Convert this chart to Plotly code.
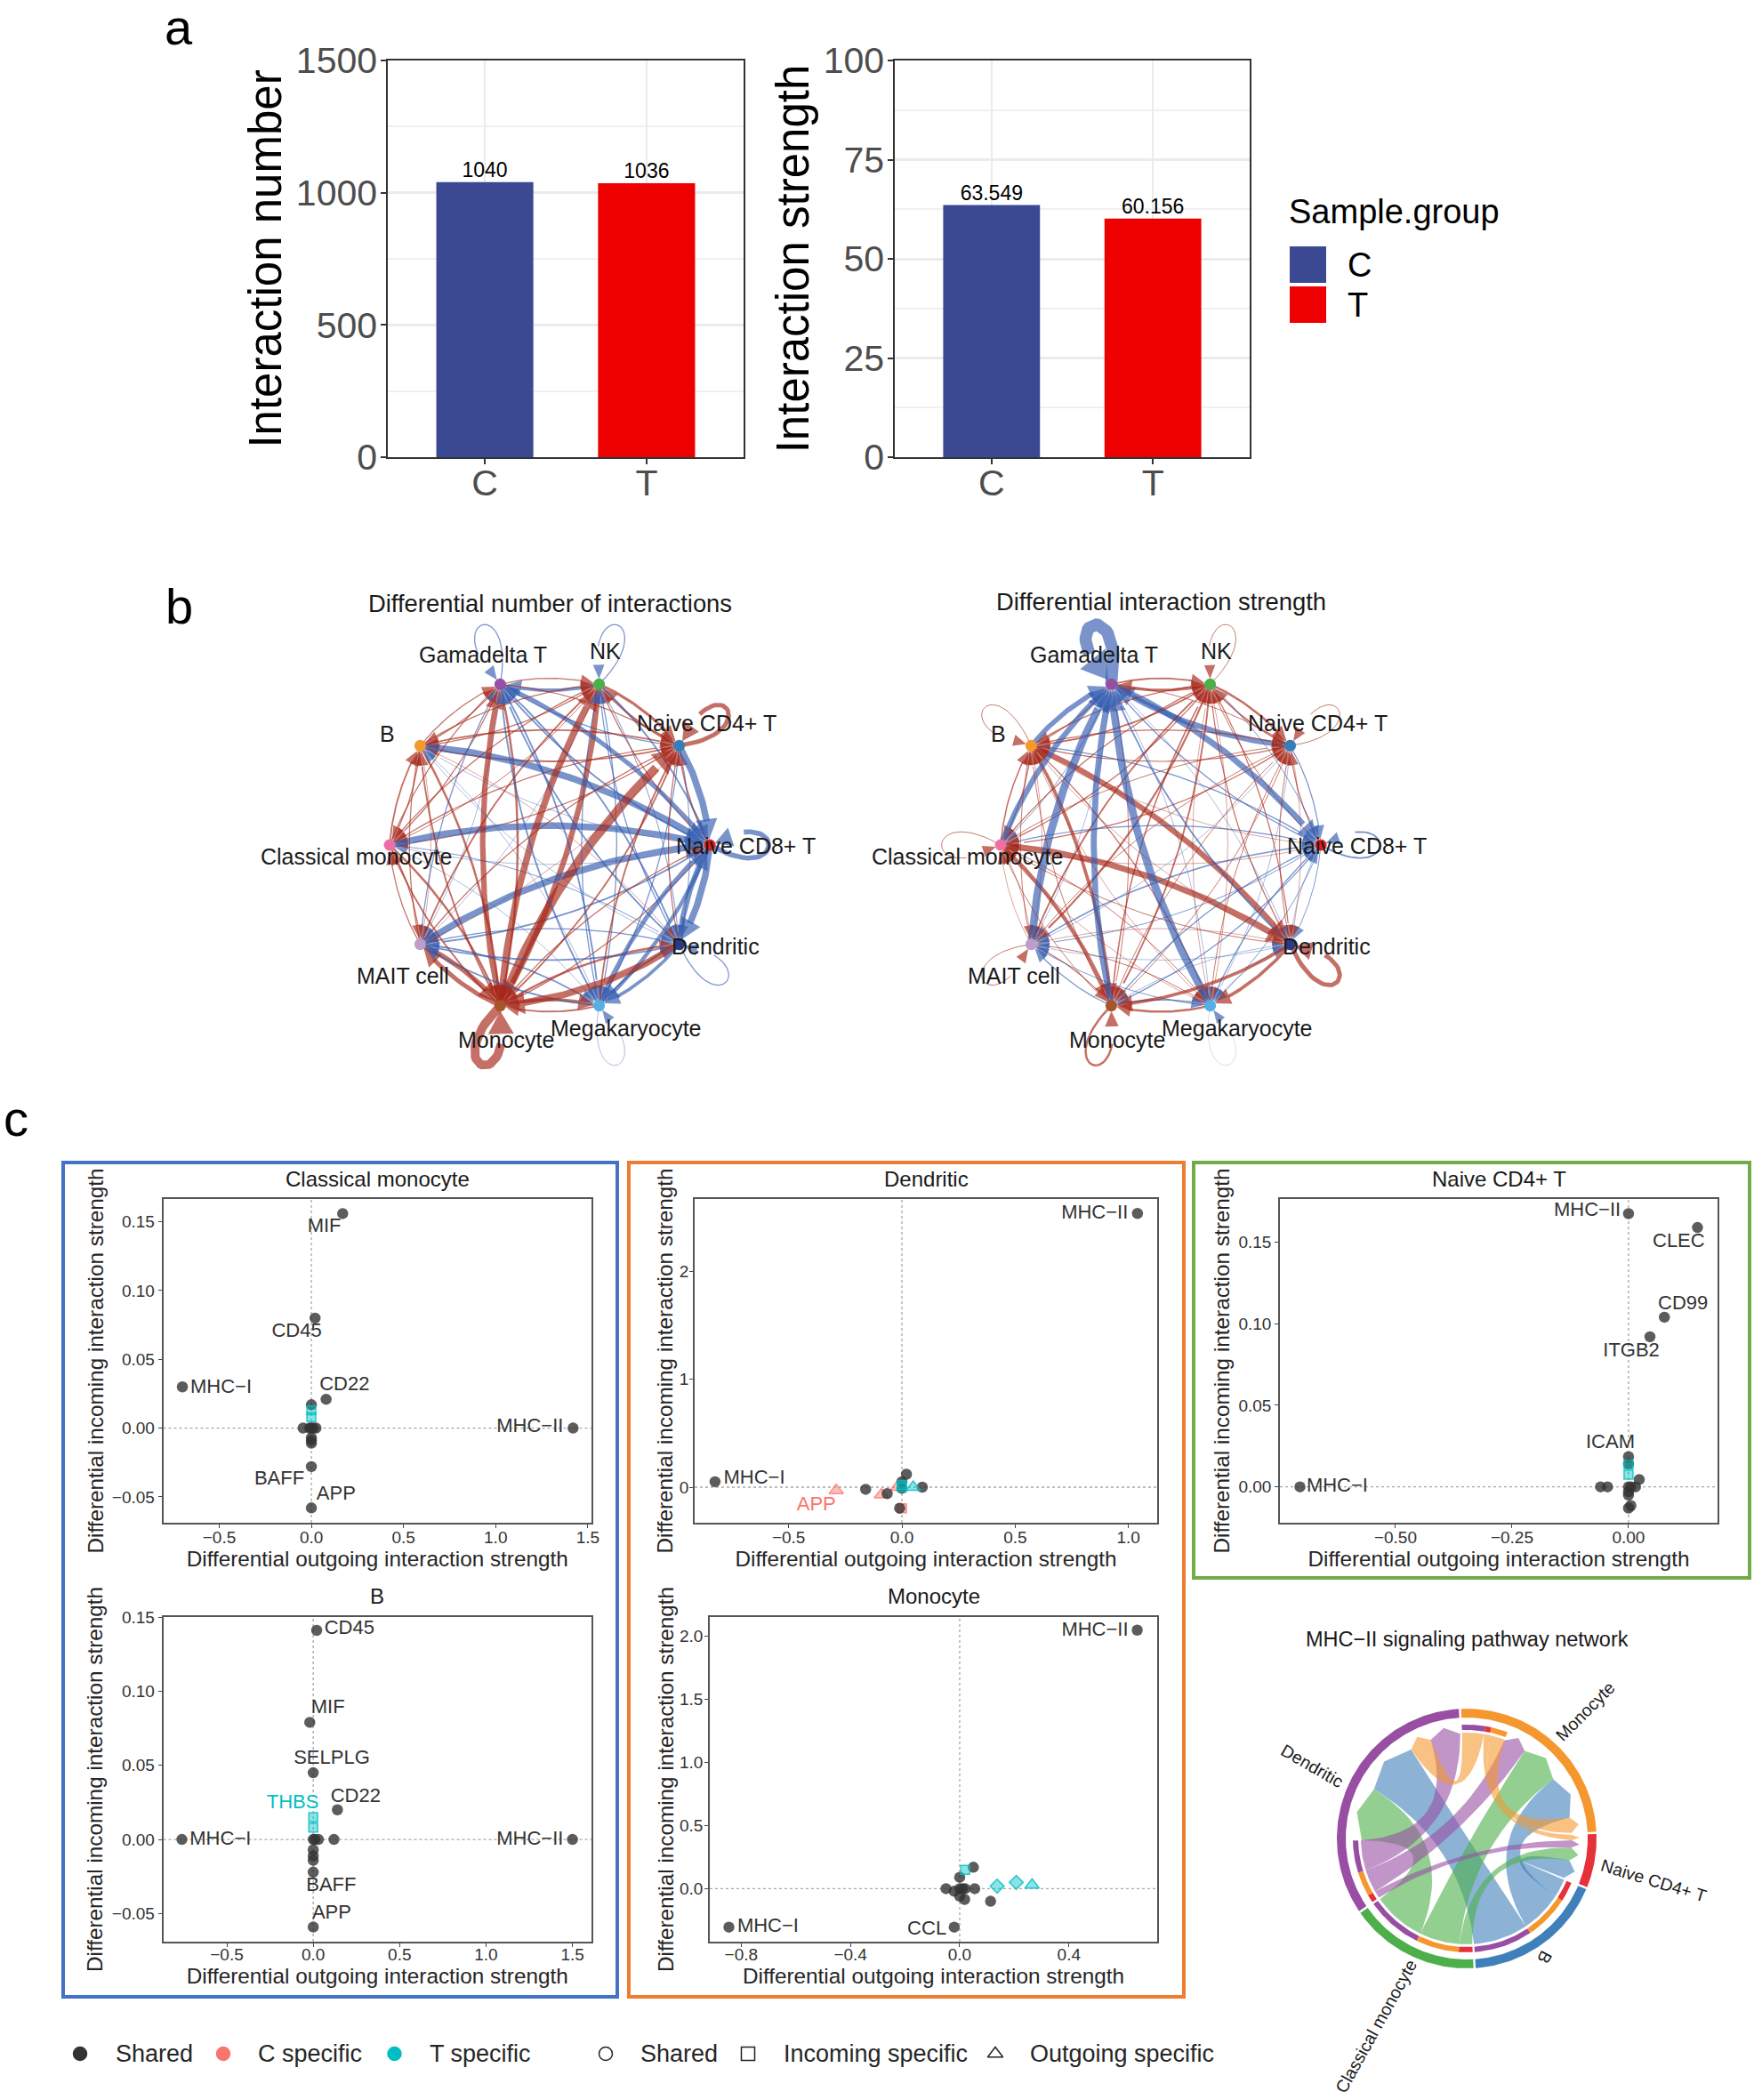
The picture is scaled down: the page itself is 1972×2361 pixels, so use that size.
import math
import plotly.graph_objects as go

W, H = 1972, 2361
FONT = "Liberation Sans"

# ---------- panel a data ----------
groups = ["C", "T"]
interaction_number = [1040, 1036]
interaction_strength = [63.549, 60.156]
number_text = ["1040", "1036"]
strength_text = ["63.549", "60.156"]
group_colors = ["#3B4992", "#EE0000"]

# ---------- panel b data (signed values, rows = sender, cols = receiver) ----------
cell_types = ["Naive CD8+ T", "Naive CD4+ T", "NK", "Gamadelta T", "B",
              "Classical monocyte", "MAIT cell", "Monocyte", "Megakaryocyte", "Dendritic"]
node_colors = ["#E41A1C", "#377EB8", "#4DAF4A", "#984EA3", "#F29A2E",
               "#EE6FA8", "#BC9DCC", "#A65628", "#54B0E4", "#2C3A80"]
diff_number = [
    [-9, 3, 2, -3, -1, -1, -3, 2, -7, -12],
    [-12, 8, 4, -2, 3, 2, 1, 3, -2, -1.5],
    [-3, 5, -2, -6, 2, 1.5, -1, 10, -2, -1.5],
    [-8, 2, 2, -2, 2, 2, -1, 4, -3, -3],
    [-12, 3, 2, 2, 0, 2, 1, 4, -1, 1],
    [-12, 2, 2, 2, 3, 0, 2, 4, -1, -1.5],
    [-12, 2, 3, -2, 2, 2, 0, 9, -3, -2],
    [2, 16, 12, 10, 3, 3, 8, 16, 6, 4],
    [-8, 3, -2, -3, 0, 0, -3, 3, -1, -3],
    [-10, 2, -2, -3, -1, 0, -3, 12, -6, -2],
]
diff_strength = [
    [-3, 2, 1.5, -2, 1, 1, -1.5, -2, -1.5, -1.5],
    [-2, 1.5, 3, -10, 2, 2, -1, 1.5, -1, 1],
    [-1.5, 4, 1.5, 5, 3, 2, 3.5, 3, 1, 2],
    [-11, 1.5, 3, -22, 2, -1.5, -1, 1.5, -1, -1],
    [-2, 2, 2, -9, 1.5, 2, 1, 6, 2, 10],
    [-2, 1.5, 2, -10, 2.5, 1.5, 1, 7, 1.5, 11],
    [-2.5, 1.5, 3, -14, 1.5, 1, 1.5, 2, 1.5, 1],
    [-2, 1.5, 2.5, -11, 1.5, 1.5, -2, 4, -2.5, -1],
    [-2, 1.5, 1, -14, 1, 1, -1.5, 4, -0.5, -1],
    [-1, 1.5, 2, -3, 1, 1.5, -1, 6, 6, 8],
]

# ---------- panel c scatter data ----------
X_TITLE = "Differential outgoing interaction strength"
Y_TITLE = "Differential incoming interaction strength"
M = "\u2212"

cm_shared_x = [0.17, 0.02, -0.70, 0.08, 0.0, 1.42, 0.0, 0.0, -0.045, -0.01, 0.0, 0.01, 0.025, 0.0, 0.0, 0.0]
cm_shared_y = [0.156, 0.08, 0.03, 0.021, 0.017, 0.0, -0.028, -0.058, 0.0, 0.0, 0.0, 0.0, 0.0, -0.007, -0.009, -0.011]
cm_tsq_x = [0.0, 0.0]
cm_tsq_y = [0.013, 0.008]
cm_labels = ["MIF", "CD45", "MHC" + M + "I", "CD22", "MHC" + M + "II", "BAFF", "APP"]
cm_lab_x = [0.07, -0.08, -0.49, 0.18, 1.186, -0.174, 0.134]
cm_lab_y = [0.146, 0.07, 0.0293, 0.0313, 0.0006, -0.0375, -0.0483]

b_shared_x = [0.02, -0.02, 0.0, 0.14, -0.76, 1.5, 0.12, 0.0, 0.01, 0.03, 0.0, 0.0, 0.0, 0.0, 0.0]
b_shared_y = [0.141, 0.079, 0.045, 0.02, 0.0, 0.0, 0.0, 0.0, 0.0, 0.0, -0.007, -0.011, -0.014, -0.022, -0.059]
b_tsq_x = [0.0, 0.0]
b_tsq_y = [0.015, 0.008]
b_labels = ["CD45", "MIF", "SELPLG", "CD22", "MHC" + M + "I", "MHC" + M + "II", "BAFF", "APP"]
b_lab_x = [0.209, 0.085, 0.107, 0.245, -0.537, 1.254, 0.104, 0.107]
b_lab_y = [0.1417, 0.0885, 0.0544, 0.0286, 0.0, 0.0, -0.0316, -0.05]
b_t_labels = ["THBS"]
b_t_lab_x = [-0.119]
b_t_lab_y = [0.0244]

d_shared_x = [1.04, -0.825, -0.16, -0.065, 0.02, 0.0, 0.0, 0.09, -0.01]
d_shared_y = [2.54, 0.05, -0.02, -0.06, 0.12, 0.05, -0.01, 0.0, -0.195]
d_ctri_x = [-0.29, -0.09, -0.02]
d_ctri_y = [-0.03, -0.07, 0.0]
d_csq_x = [0.0]
d_csq_y = [-0.195]
d_tsq_x = [0.0, 0.0]
d_tsq_y = [0.02, 0.0]
d_ttri_x = [0.05]
d_ttri_y = [0.0]
d_labels = ["MHC" + M + "II", "MHC" + M + "I"]
d_lab_x = [0.851, -0.652]
d_lab_y = [2.542, 0.0825]
d_c_labels = ["APP"]
d_c_lab_x = [-0.378]
d_c_lab_y = [-0.173]

m_shared_x = [0.65, -0.845, -0.02, 0.05, 0.0, -0.05, -0.02, 0.0, 0.01, 0.02, 0.055, 0.0, 0.018, 0.113]
m_shared_y = [2.05, -0.305, -0.305, 0.17, 0.09, 0.0, -0.02, 0.0, 0.0, 0.0, 0.0, -0.06, -0.085, -0.10]
m_tsq_x = [0.02]
m_tsq_y = [0.15]
m_tdia_x = [0.137, 0.207]
m_tdia_y = [0.02, 0.05]
m_ttri_x = [0.265]
m_ttri_y = [0.03]
m_labels = ["MHC" + M + "II", "MHC" + M + "I", "CCL"]
m_lab_x = [0.495, -0.702, -0.12]
m_lab_y = [2.046, -0.306, -0.325]

n_shared_x = [0.0, 0.148, 0.077, 0.046, 0.0, 0.0, 0.023, -0.06, -0.045, 0.0, 0.005, 0.015, 0.0, 0.0, 0.005, 0.0, -0.705]
n_shared_y = [0.1675, 0.159, 0.104, 0.092, 0.0185, 0.014, 0.0045, 0.0, 0.0, 0.0, 0.0, 0.0, -0.003, -0.005, -0.0115, -0.013, 0.0]
n_tsq_x = [0.0, 0.0]
n_tsq_y = [0.0137, 0.0075]
n_labels = ["MHC" + M + "II", "CLEC", "CD99", "ITGB2", "ICAM", "MHC" + M + "I"]
n_lab_x = [-0.0885, 0.1077, 0.117, 0.006, -0.039, -0.625]
n_lab_y = [0.1689, 0.15, 0.1119, 0.0832, 0.0269, 0.0]

# ---------- chord data (sender, receiver, value) ----------
chord_sectors = ["Monocyte", "Naive CD4+ T", "B", "Classical monocyte", "Dendritic"]
chord_colors = {"Monocyte": "#F5972E", "Naive CD4+ T": "#E5323A", "B": "#4080BA",
                "Classical monocyte": "#4DAF4A", "Dendritic": "#984EA3"}
chord_links = [
    ("Dendritic", "B", 30), ("Monocyte", "B", 23), ("Naive CD4+ T", "B", 10),
    ("Dendritic", "Classical monocyte", 29), ("Monocyte", "Classical monocyte", 22),
    ("Naive CD4+ T", "Classical monocyte", 7),
    ("Dendritic", "Dendritic", 16.5), ("Monocyte", "Dendritic", 12.5), ("Naive CD4+ T", "Dendritic", 4),
    ("Dendritic", "Monocyte", 12), ("Naive CD4+ T", "Monocyte", 3), ("Monocyte", "Monocyte", 8.5),
]

# ---------- helpers ----------
def dom_x(a, b):
    return [a / W, b / W]

def dom_y(top, bottom):
    return [1 - bottom / H, 1 - top / H]

def px(x):
    return x / W

def py(y):
    return 1 - y / H

fig = go.Figure()
annotations = []
shapes = []
layout = {}

def note(text, x, y, size, color="#1a1a1a", anchor="center", angle=0):
    annotations.append(dict(text=text, x=px(x), y=py(y), xref="paper", yref="paper",
                            showarrow=False, xanchor=anchor, yanchor="middle", textangle=angle,
                            font=dict(family=FONT, size=size, color=color)))

def hidden_axes(n, xd, yd, xr, yr):
    layout[f"xaxis{n}"] = dict(domain=dom_x(*xd), range=xr, visible=False, anchor=f"y{n}", fixedrange=True, automargin=False)
    layout[f"yaxis{n}"] = dict(domain=dom_y(*yd), range=yr, visible=False, anchor=f"x{n}", fixedrange=True, automargin=False)

# ---------- panel a ----------
def bar_panel(n, xd, values, text, ymax, major, minor, title, standoff):
    layout[f"xaxis{n}"] = dict(domain=dom_x(*xd), anchor=f"y{n}", type="category", categoryorder="array",
                               categoryarray=groups, range=[-0.6, 1.6], showline=True, mirror=True, automargin=False,
                               linecolor="#333333", linewidth=1.5, ticks="outside", ticklen=6, tickwidth=1.5,
                               ticklabelstandoff=-14,
                               tickcolor="#333333", tickfont=dict(family=FONT, size=41, color="#4d4d4d"),
                               showgrid=True, gridcolor="#ebebeb", gridwidth=1.5, zeroline=False)
    layout[f"yaxis{n}"] = dict(domain=dom_y(68, 514), anchor=f"x{n}", range=[0, ymax], dtick=major, automargin=False,
                               minor=dict(dtick=minor, showgrid=True, gridcolor="#f0f0f0", gridwidth=1.5, ticklen=0),
                               showline=True, mirror=True, linecolor="#333333", linewidth=1.5,
                               ticks="outside", ticklen=6, tickwidth=1.5, tickcolor="#333333",
                               ticklabelstandoff=-4,
                               tickfont=dict(family=FONT, size=41, color="#4d4d4d"),
                               showgrid=True, gridcolor="#ebebeb", gridwidth=2.5, zeroline=False,
                               title=dict(text=title, standoff=standoff,
                                          font=dict(family=FONT, size=51, color="#000000")))
    fig.add_trace(go.Bar(x=groups, y=values, width=0.6,
                         marker=dict(color=group_colors, line=dict(width=0)),
                         showlegend=False, hoverinfo="skip", xaxis=f"x{n}", yaxis=f"y{n}"))
    fig.add_trace(go.Scatter(x=groups, y=values, text=text, mode="text", textposition="top center",
                             textfont=dict(family=FONT, size=23, color="#000000"), cliponaxis=False,
                             showlegend=False, hoverinfo="skip", xaxis=f"x{n}", yaxis=f"y{n}"))

bar_panel("", (436, 836), interaction_number, number_text, 1500, 500, 250, "Interaction number", 0)
bar_panel(2, (1006, 1405), interaction_strength, strength_text, 100, 25, 12.5, "Interaction strength", 0)
note("a", 201, 30, 56, "#000000")
note("Sample.group", 1447, 238, 38, "#000000", "left")
for i, g in enumerate(groups):
    top = 277 + 45 * i
    shapes.append(dict(type="rect", xref="paper", yref="paper", x0=px(1450), x1=px(1491), y0=py(top),
                       y1=py(top + 41), fillcolor=group_colors[i], line=dict(width=0)))
    note(g, 1513, top + 21, 38, "#000000", "left")

# ---------- panel b ----------
RED = "rgba(165,35,20,0.65)"
BLUE = "rgba(50,90,175,0.65)"
UNIT = 185.0
CURVE = 0.115

def network(n, cx, matrix, title, title_y):
    hidden_axes(n, (cx - 270, cx + 270), (950 - 285, 950 + 285), [-1.5, 1.5], [-1.5, 1.5])
    k = len(cell_types)
    nodes = [(math.cos(2 * math.pi * i / k), math.sin(2 * math.pi * i / k)) for i in range(k)]

    def add_head(tipx, tipy, ux, uy, width, color):
        ln = (14 + 1.1 * width) / UNIT
        hw = (5.5 + 0.95 * width) / UNIT
        bx, by = tipx - ux * ln, tipy - uy * ln
        xs = [tipx, bx - uy * hw, bx + uy * hw, tipx]
        ys = [tipy, by + ux * hw, by - ux * hw, tipy]
        fig.add_trace(go.Scatter(x=xs, y=ys, mode="lines", fill="toself", fillcolor=color,
                                 line=dict(width=0), showlegend=False, hoverinfo="skip",
                                 xaxis=f"x{n}", yaxis=f"y{n}"))

    gap = 6 / UNIT
    for s in range(k):
        for t in range(k):
            v = matrix[s][t]
            if v == 0:
                continue
            width = abs(v) * 0.62
            color = RED if v > 0 else BLUE
            sx, sy = nodes[s]
            tx, ty = nodes[t]
            if s == t:
                a = math.atan2(sy, sx)
                L = 0.56
                ph = 0.5
                c1 = (sx + L * math.cos(a - ph), sy + L * math.sin(a - ph))
                c2 = (sx + L * math.cos(a + ph), sy + L * math.sin(a + ph))
                pts = []
                for i in range(41):
                    u = i / 40
                    b0, b1, b2, b3 = (1 - u) ** 3, 3 * u * (1 - u) ** 2, 3 * u * u * (1 - u), u ** 3
                    pts.append((b0 * sx + b1 * c1[0] + b2 * c2[0] + b3 * sx,
                                b0 * sy + b1 * c1[1] + b2 * c2[1] + b3 * sy))
                kept = pts[:34]
            else:
                mx, my = (sx + tx) / 2, (sy + ty) / 2
                dx, dy = tx - sx, ty - sy
                cx_, cy_ = mx - CURVE * dy, my + CURVE * dx
                pts = []
                for i in range(41):
                    u = i / 40
                    pts.append(((1 - u) ** 2 * sx + 2 * u * (1 - u) * cx_ + u * u * tx,
                                (1 - u) ** 2 * sy + 2 * u * (1 - u) * cy_ + u * u * ty))
                stop = gap + (14 + 1.1 * width) / UNIT * 0.85
                kept = []
                for p in pts:
                    if math.hypot(p[0] - tx, p[1] - ty) <= stop:
                        break
                    kept.append(p)
            lx, ly = kept[-1]
            ux, uy = tx - lx, ty - ly
            d = math.hypot(ux, uy)
            ux, uy = ux / d, uy / d
            fig.add_trace(go.Scatter(x=[p[0] for p in kept], y=[p[1] for p in kept], mode="lines",
                                     line=dict(color=color, width=width), showlegend=False,
                                     hoverinfo="skip", xaxis=f"x{n}", yaxis=f"y{n}"))
            add_head(tx - ux * gap, ty - uy * gap, ux, uy, width, color)
    fig.add_trace(go.Scatter(x=[p[0] for p in nodes], y=[p[1] for p in nodes], mode="markers",
                             marker=dict(size=13, color=node_colors, line=dict(width=0)), showlegend=False,
                             hoverinfo="skip", xaxis=f"x{n}", yaxis=f"y{n}"))
    note(title, cx, title_y, 27.4)

network(3, 618, diff_number, "Differential number of interactions", 678)
network(4, 1305, diff_strength, "Differential interaction strength", 676)
label_offsets = [(220, 1.5), (176, -136.5), (62.5, -218), (-75.5, -214.5), (-183, -125),
                 (-218, 12.7), (-165, 147), (-49, 219), (86, 206), (186, 114)]
for cx in (618, 1305):
    for name, (ox, oy) in zip(cell_types, label_offsets):
        note(name, cx + ox, 950 + oy, 25)
note("b", 201, 681, 56, "#000000")

# ---------- panel c scatter panels ----------
SHARED = "rgba(51,51,51,0.8)"
C_COL = "#F8766D"
T_COL = "#00BFC4"

def fade(col, a):
    r, g, b = int(col[1:3], 16), int(col[3:5], 16), int(col[5:7], 16)
    return f"rgba({r},{g},{b},{a})"

def scatter_panel(n, xd, yd, xr, yr, xticks, xtext, yticks, ytext, title, title_y, standoff, xlift, ylift):
    layout[f"xaxis{n}"] = dict(domain=dom_x(*xd), anchor=f"y{n}", range=xr, tickvals=xticks, ticktext=xtext,
                               showline=True, mirror=True, linecolor="#555555", linewidth=1.5, ticks="outside",
                               ticklen=4, tickwidth=1.2, tickcolor="#444444", showgrid=False, zeroline=False,
                               ticklabelstandoff=xlift,
                               automargin=False, tickfont=dict(family=FONT, size=19, color="#333333"),
                               title=dict(text=X_TITLE, standoff=1, font=dict(family=FONT, size=24.3, color="#262626")))
    layout[f"yaxis{n}"] = dict(domain=dom_y(*yd), anchor=f"x{n}", range=yr, tickvals=yticks, ticktext=ytext,
                               showline=True, mirror=True, linecolor="#555555", linewidth=1.5, ticks="outside",
                               ticklen=4, tickwidth=1.2, tickcolor="#444444", showgrid=False, zeroline=False,
                               ticklabelstandoff=ylift,
                               automargin=False, tickfont=dict(family=FONT, size=19, color="#333333"),
                               title=dict(text=Y_TITLE, standoff=standoff, font=dict(family=FONT, size=24.3, color="#262626")))
    shapes.append(dict(type="line", xref=f"x{n}", yref=f"y{n}", x0=xr[0], x1=xr[1], y0=0, y1=0, layer="below",
                       line=dict(color="#a6a6a6", width=1.3, dash="3px,3px")))
    shapes.append(dict(type="line", xref=f"x{n}", yref=f"y{n}", x0=0, x1=0, y0=yr[0], y1=yr[1], layer="below",
                       line=dict(color="#a6a6a6", width=1.3, dash="3px,3px")))
    note(title, (xd[0] + xd[1]) / 2, title_y, 24)

def points(n, xs, ys, symbol, col=None):
    if col is None:
        marker = dict(size=12.5, color=SHARED, symbol=symbol, line=dict(width=0))
    else:
        size = {"square": 10, "triangle-up": 14, "diamond": 12}[symbol]
        marker = dict(size=size, color=fade(col, 0.45), symbol=symbol, line=dict(color=fade(col, 0.8), width=1.5))
    fig.add_trace(go.Scatter(x=xs, y=ys, mode="markers", marker=marker, showlegend=False, hoverinfo="skip",
                             cliponaxis=False, xaxis=f"x{n}", yaxis=f"y{n}"))

def labels(n, xs, ys, text, col="#333333"):
    fig.add_trace(go.Scatter(x=xs, y=ys, text=text, mode="text", textposition="middle center",
                             textfont=dict(family=FONT, size=22, color=col), showlegend=False,
                             hoverinfo="skip", cliponaxis=False, xaxis=f"x{n}", yaxis=f"y{n}"))

tick_05 = [-0.5, 0.0, 0.5, 1.0, 1.5]
tick_05_text = [M + "0.5", "0.0", "0.5", "1.0", "1.5"]
tick_y = [-0.05, 0.0, 0.05, 0.10, 0.15]
tick_y_text = [M + "0.05", "0.00", "0.05", "0.10", "0.15"]

scatter_panel(6, (183.5, 665), (1348, 1712), [-0.804, 1.52], [-0.0688, 0.1666], tick_05, tick_05_text,
              tick_y, tick_y_text, "Classical monocyte", 1325, 2, -6, 0)
points(6, cm_shared_x, cm_shared_y, "circle")
points(6, cm_tsq_x, cm_tsq_y, "square", T_COL)
labels(6, cm_lab_x, cm_lab_y, cm_labels)

scatter_panel(7, (183.5, 665), (1818, 2183), [-0.868, 1.61], [-0.0689, 0.15], tick_05, tick_05_text,
              tick_y, tick_y_text, "B", 1794, 3, -8, 0)
points(7, b_shared_x, b_shared_y, "circle")
points(7, b_tsq_x, b_tsq_y, "square", T_COL)
labels(7, b_lab_x, b_lab_y, b_labels)
labels(7, b_t_lab_x, b_t_lab_y, b_t_labels, T_COL)

scatter_panel(8, (781, 1301), (1348, 1712), [-0.915, 1.127], [-0.33, 2.674], [-0.5, 0.0, 0.5, 1.0],
              [M + "0.5", "0.0", "0.5", "1.0"], [0, 1, 2], ["0", "1", "2"], "Dendritic", 1325, 0, -6, -3)
points(8, d_ctri_x, d_ctri_y, "triangle-up", C_COL)
points(8, d_csq_x, d_csq_y, "square", C_COL)
points(8, d_shared_x, d_shared_y, "circle")
points(8, d_tsq_x, d_tsq_y, "square", T_COL)
points(8, d_ttri_x, d_ttri_y, "triangle-up", T_COL)
labels(8, d_lab_x, d_lab_y, d_labels)
labels(8, d_c_lab_x, d_c_lab_y, d_c_labels, C_COL)

scatter_panel(9, (798, 1301), (1818, 2183), [-0.915, 0.723], [-0.42, 2.154], [-0.8, -0.4, 0.0, 0.4],
              [M + "0.8", M + "0.4", "0.0", "0.4"], [0, 0.5, 1.0, 1.5, 2.0], ["0.0", "0.5", "1.0", "1.5", "2.0"],
              "Monocyte", 1794, 0, -8, -2)
points(9, m_shared_x, m_shared_y, "circle")
points(9, m_tsq_x, m_tsq_y, "square", T_COL)
points(9, m_tdia_x, m_tdia_y, "diamond", T_COL)
points(9, m_ttri_x, m_ttri_y, "triangle-up", T_COL)
labels(9, m_lab_x, m_lab_y, m_labels)

scatter_panel(10, (1439, 1931), (1348, 1712), [-0.748, 0.191], [-0.022, 0.1765], [-0.5, -0.25, 0.0],
              [M + "0.50", M + "0.25", "0.00"], [0, 0.05, 0.10, 0.15], ["0.00", "0.05", "0.10", "0.15"],
              "Naive CD4+ T", 1325, 3, -6, 0)
points(10, n_shared_x, n_shared_y, "circle")
points(10, n_tsq_x, n_tsq_y, "square", T_COL)
labels(10, n_lab_x, n_lab_y, n_labels)

note("c", 18, 1257, 56, "#000000")
for (x0, x1, y1, col) in [(71, 694, 2245, "#4472C4"), (707, 1331, 2245, "#ED7D31"), (1342, 1967, 1774, "#70AD47")]:
    shapes.append(dict(type="rect", xref="paper", yref="paper", x0=px(x0), x1=px(x1), y0=py(1307), y1=py(y1),
                       line=dict(color=col, width=4), fillcolor="rgba(0,0,0,0)"))

# bottom legend on a full-page hidden axis
hidden_axes(11, (0, W), (0, H), [0, W], [H, 0])
legend_marks = [(90, "circle", "#333333"), (251, "circle", C_COL), (443.5, "circle", T_COL),
                (681, "circle-open", "#222222"), (841, "square-open", "#222222"),
                (1119, "triangle-up-open", "#222222")]
for x, sym, col in legend_marks:
    fig.add_trace(go.Scatter(x=[x], y=[2309], mode="markers", showlegend=False, hoverinfo="skip",
                             marker=dict(symbol=sym, size=15, color=col, line=dict(color=col, width=1.5)),
                             xaxis="x11", yaxis="y11"))
for x, t in [(128, "Shared"), (288, "C specific"), (481, "T specific"), (718, "Shared"),
             (879, "Incoming specific"), (1156, "Outgoing specific")]:
    note(t, x, 2309, 27, "#262626", "left")

# ---------- chord ----------
CCX, CCY = 1649, 2067
hidden_axes(5, (CCX - 170, CCX + 170), (CCY - 170, CCY + 170), [-170, 170], [-170, 170])

def pol(r, deg):
    return r * math.cos(math.radians(deg)), r * math.sin(math.radians(deg))

in_order = {"Monocyte": ["Dendritic", "Naive CD4+ T", "Monocyte"]}
default_in = ["Naive CD4+ T", "Monocyte", "Dendritic"]
out_order = {"Monocyte": ["Dendritic", "Classical monocyte", "B", "Monocyte"],
             "Naive CD4+ T": ["Monocyte", "Dendritic", "Classical monocyte", "B"],
             "Dendritic": ["Classical monocyte", "B", "Monocyte", "Dendritic"]}
val = {(a, b): v for a, b, v in chord_links}
gap_deg = (360 - sum(v for _, _, v in chord_links) * 2) / len(chord_sectors)
angle = 92.5
in_span, out_span, sector_span = {}, {}, {}

def band(r0, r1, a0, a1, col):
    n = max(3, int(abs(a1 - a0)) + 2)
    angs = [a0 + (a1 - a0) * i / (n - 1) for i in range(n)]
    xs = [pol(r1, a)[0] for a in angs] + [pol(r0, a)[0] for a in reversed(angs)]
    ys = [pol(r1, a)[1] for a in angs] + [pol(r0, a)[1] for a in reversed(angs)]
    fig.add_trace(go.Scatter(x=xs + xs[:1], y=ys + ys[:1], mode="lines", fill="toself", fillcolor=col,
                             line=dict(width=0), showlegend=False, hoverinfo="skip", xaxis="x5", yaxis="y5"))

for sec in chord_sectors:
    start = angle
    for snd in in_order.get(sec, default_in):
        if (snd, sec) in val:
            v = val[(snd, sec)]
            in_span[(snd, sec)] = (angle, angle - v)
            angle -= v
    for rcv in out_order.get(sec, []):
        v = val[(sec, rcv)]
        out_span[(sec, rcv)] = (angle, angle - v)
        angle -= v
    sector_span[sec] = (start, angle)
    angle -= gap_deg

def qbez(p0, p2, steps=24):
    out = []
    mid = ((p0[0] + p2[0]) / 2, (p0[1] + p2[1]) / 2)
    ctrl = (mid[0] * 0.12, mid[1] * 0.12)
    for i in range(1, steps):
        u = i / steps
        out.append(((1 - u) ** 2 * p0[0] + 2 * u * (1 - u) * ctrl[0] + u * u * p2[0],
                    (1 - u) ** 2 * p0[1] + 2 * u * (1 - u) * ctrl[1] + u * u * p2[1]))
    return out

for snd, rcv, v in chord_links:
    s1, s2 = out_span[(snd, rcv)]
    r1, r2 = in_span[(snd, rcv)]
    path = [pol(118, s1), pol(127, (s1 + s2) / 2), pol(118, s2)]
    path += qbez(pol(118, s2), pol(119, r1))
    path += [pol(119, r1 + (r2 - r1) * i / 12) for i in range(13)]
    path += qbez(pol(119, r2), pol(118, s1))
    path.append(path[0])
    col = chord_colors[rcv]
    fig.add_trace(go.Scatter(x=[p[0] for p in path], y=[p[1] for p in path], mode="lines", fill="toself",
                             fillcolor=fade(col, 0.6), line=dict(width=0), showlegend=False,
                             hoverinfo="skip", xaxis="x5", yaxis="y5"))
    band(122, 128, r1, r2, chord_colors[snd])

for sec in chord_sectors:
    a0, a1 = sector_span[sec]
    band(136, 146, a0, a1, chord_colors[sec])

note("MHC" + M + "II signaling pathway network", 1649, 1843, 23.5)
for t, x, y, rot in [("Monocyte", 1782, 1924, -45), ("Dendritic", 1475, 1985, 30),
                     ("Naive CD4+ T", 1859, 2114, 17), ("B", 1737, 2200, 118),
                     ("Classical monocyte", 1547, 2278, -61)]:
    note(t, x, y, 19.5, "#1a1a1a", "center", rot)

fig.update_layout(width=W, height=H, margin=dict(l=0, r=0, t=0, b=0), autosize=False,
                  paper_bgcolor="white", plot_bgcolor="rgba(0,0,0,0)", showlegend=False,
                  font=dict(family=FONT), annotations=annotations, shapes=shapes, **layout)
fig.write_html("out.html", config={"displayModeBar": False},
               post_script="document.body.style.margin='0';document.documentElement.style.overflow='hidden';")
